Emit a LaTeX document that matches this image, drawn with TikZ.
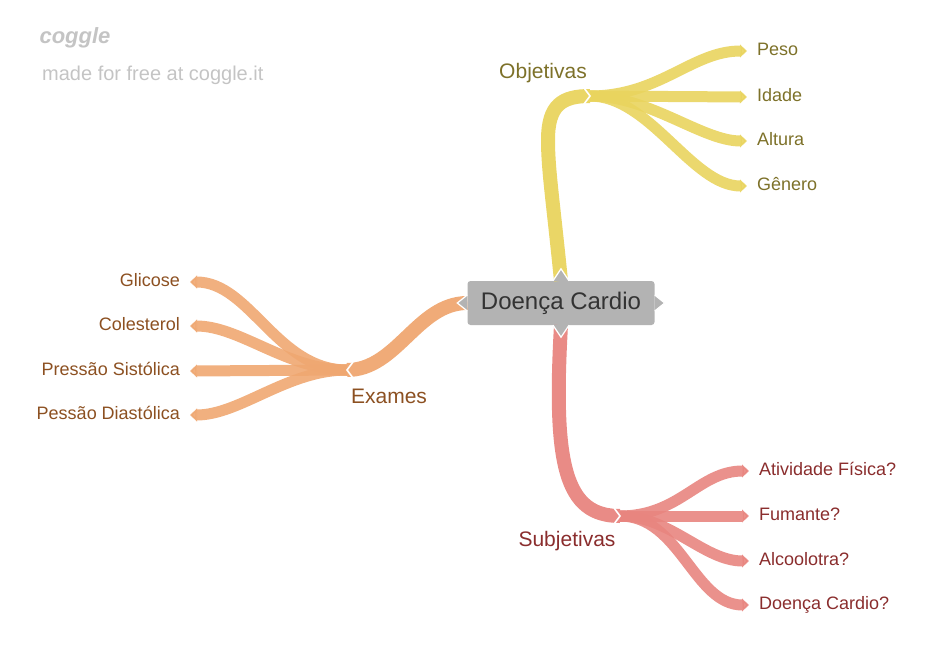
\documentclass[tikz,border=0pt]{standalone}
\usepackage{fontspec}
\setmainfont{Liberation Sans}
\usetikzlibrary{arrows.meta}
\definecolor{objcol}{HTML}{E9D45E}
\definecolor{objink}{HTML}{7D7129}
\definecolor{examcol}{HTML}{EFA771}
\definecolor{examink}{HTML}{8C5021}
\definecolor{subcol}{HTML}{E8857F}
\definecolor{subink}{HTML}{8A2D2D}
\definecolor{rootgray}{HTML}{B3B3B3}
\definecolor{rootink}{HTML}{333333}
\definecolor{logogray}{HTML}{C4C4C4}
\begin{document}
\begin{tikzpicture}[x=1pt,y=-1pt]
        \tikzstyle{every node}=[inner sep=0pt]
        \tikzstyle{leaf}=[font=\fontsize{18}{21}\selectfont, text height=13pt, text depth=4pt]
        \tikzstyle{branch}=[font=\fontsize{21}{24}\selectfont]
        \tikzstyle{bough}=[line width=14pt, opacity=0.95]
        \tikzstyle{twig}=[line width=11pt, opacity=0.9, -{Triangle[length=7pt,width=0pt 1.15]}]
        \tikzstyle{notch}=[white, line width=1.6pt, line join=miter]
        \useasboundingbox (0,0) rectangle (940,664);
        \node[text=logogray, font=\fontsize{22}{24}\selectfont\bfseries\itshape] (logo) at (75,38) {coggle};
        \node[anchor=west, text=logogray, font=\fontsize{20}{22}\selectfont] (madeby) at (42,75) {made for free at coggle.it};
        \node[fill=rootgray, text=rootink, font=\fontsize{24}{28}\selectfont, minimum width=187pt, minimum height=44pt, rounded corners=3pt] (root) at (561,303) {Doença Cardio};
        \coordinate (objJ) at (590,96);
        \coordinate (examJ) at (347,370);
        \coordinate (subJ) at (620,516);
        \node[branch, text=objink] (objLbl) at (543,73) {Objetivas};
        \node[branch, text=examink] (examLbl) at (389,396) {Exames};
        \node[branch, text=subink] (subLbl) at (567,541) {Subjetivas};
        \node[leaf, anchor=west, text=objink] (peso) at (757,51) {Peso};
        \node[leaf, anchor=west, text=objink] (idade) at (757,97) {Idade};
        \node[leaf, anchor=west, text=objink] (altura) at (757,141) {Altura};
        \node[leaf, anchor=west, text=objink] (genero) at (757,186) {Gênero};
        \node[leaf, anchor=east, text=examink] (glicose) at (180,282) {Glicose};
        \node[leaf, anchor=east, text=examink] (colesterol) at (180,326) {Colesterol};
        \node[leaf, anchor=east, text=examink] (sistolica) at (180,371) {Pressão Sistólica};
        \node[leaf, anchor=east, text=examink] (diastolica) at (180,415) {Pessão Diastólica};
        \node[leaf, anchor=west, text=subink] (atividade) at (759,471) {Atividade Física?};
        \node[leaf, anchor=west, text=subink] (fumante) at (759,516) {Fumante?};
        \node[leaf, anchor=west, text=subink] (alcool) at (759,561) {Alcoolotra?};
        \node[leaf, anchor=west, text=subink] (doenca) at (759,605) {Doença Cardio?};
        \draw[bough, objcol] (root.north) .. controls +(-8,-80) and +(0,30) .. (548,140) .. controls +(0,-35) and +(-28,0) .. (objJ);
        \draw[bough, examcol] (root.west) .. controls +(-50,0) and +(50,0) .. (examJ);
        \draw[bough, subcol] (root.south) .. controls +(-8,140) and +(-55,0) .. (subJ);
        \draw[twig, objcol] (objJ) .. controls +(70,0) and +(-55,0) .. ([xshift=-10pt]peso.west);
        \draw[twig, objcol] (objJ) -- ([xshift=-10pt]idade.west);
        \draw[twig, objcol] (objJ) .. controls +(60,0) and +(-45,0) .. ([xshift=-10pt]altura.west);
        \draw[twig, objcol] (objJ) .. controls +(60,0) and +(-55,0) .. ([xshift=-10pt]genero.west);
        \draw[twig, examcol] (examJ) .. controls +(-70,0) and +(60,0) .. ([xshift=10pt]glicose.east);
        \draw[twig, examcol] (examJ) .. controls +(-60,0) and +(50,0) .. ([xshift=10pt]colesterol.east);
        \draw[twig, examcol] (examJ) -- ([xshift=10pt]sistolica.east);
        \draw[twig, examcol] (examJ) .. controls +(-60,0) and +(50,0) .. ([xshift=10pt]diastolica.east);
        \draw[twig, subcol] (subJ) .. controls +(60,0) and +(-50,0) .. ([xshift=-10pt]atividade.west);
        \draw[twig, subcol] (subJ) -- ([xshift=-10pt]fumante.west);
        \draw[twig, subcol] (subJ) .. controls +(50,0) and +(-45,0) .. ([xshift=-10pt]alcool.west);
        \draw[twig, subcol] (subJ) .. controls +(60,0) and +(-55,0) .. ([xshift=-10pt]doenca.west);
        \draw[notch] ([shift={(-6,-8)}]objJ) -- (objJ) -- ([shift={(-6,8)}]objJ);
        \draw[notch] ([shift={(6,-8)}]examJ) -- (examJ) -- ([shift={(6,8)}]examJ);
        \draw[notch] ([shift={(-6,-8)}]subJ) -- (subJ) -- ([shift={(-6,8)}]subJ);
        \fill[rootgray] ([xshift=-8pt]root.north) -- ([yshift=12pt]root.north) -- ([xshift=8pt]root.north) -- cycle;
        \fill[rootgray] ([xshift=-8pt]root.south) -- ([yshift=-12pt]root.south) -- ([xshift=8pt]root.south) -- cycle;
        \fill[rootgray] ([yshift=8pt]root.west) -- ([xshift=-10pt]root.west) -- ([yshift=-8pt]root.west) -- cycle;
        \fill[rootgray] ([yshift=8pt]root.east) -- ([xshift=10pt]root.east) -- ([yshift=-8pt]root.east) -- cycle;
        \draw[notch, line width=1.2pt] ([xshift=-8pt]root.north) -- ([yshift=12pt]root.north) -- ([xshift=8pt]root.north);
        \draw[notch, line width=1.2pt] ([xshift=-8pt]root.south) -- ([yshift=-12pt]root.south) -- ([xshift=8pt]root.south);
        \draw[notch, line width=1.2pt] ([yshift=8pt]root.west) -- ([xshift=-10pt]root.west) -- ([yshift=-8pt]root.west);
        \draw[notch, line width=1.2pt] ([yshift=8pt]root.east) -- ([xshift=10pt]root.east) -- ([yshift=-8pt]root.east);
    \end{tikzpicture}
\end{document}
